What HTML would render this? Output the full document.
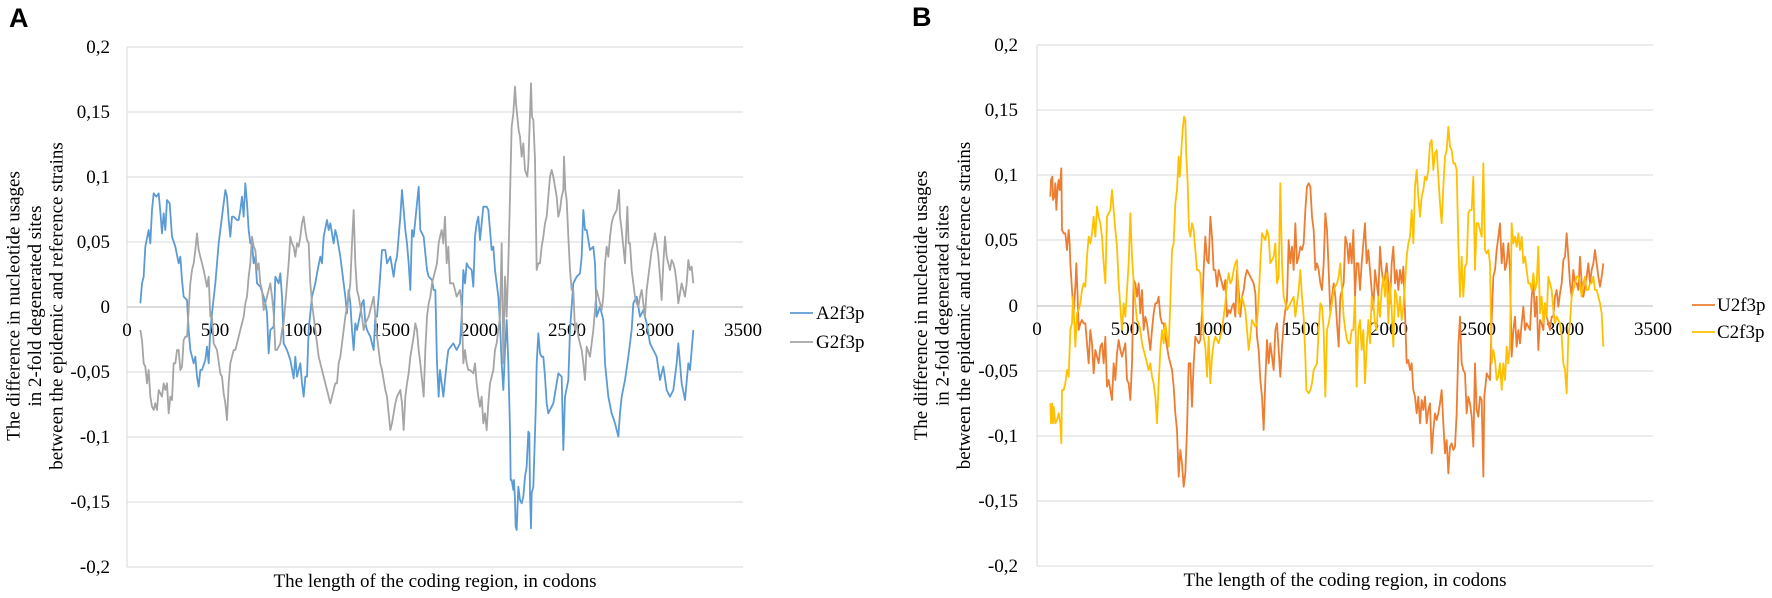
<!DOCTYPE html>
<html>
<head>
<meta charset="utf-8">
<style>
html,body{margin:0;padding:0;background:#fff;}
svg{display:block;}
text{font-family:"Liberation Serif","Times New Roman",serif;fill:#000;}
.lbl{font-size:19px;}
.pl{font-family:"Liberation Sans",Arial,sans-serif;font-weight:bold;font-size:27px;}
</style>
</head>
<body>
<svg width="1772" height="598" viewBox="0 0 1772 598" xmlns="http://www.w3.org/2000/svg">
<rect x="0" y="0" width="1772" height="598" fill="#fff"/>

<!-- ================= PANEL A ================= -->
<text class="pl" x="9" y="27">A</text>
<g stroke="#d9d9d9" stroke-width="1">
  <line x1="127" y1="47" x2="743" y2="47"/>
  <line x1="127" y1="112" x2="743" y2="112"/>
  <line x1="127" y1="177" x2="743" y2="177"/>
  <line x1="127" y1="242" x2="743" y2="242"/>
  <line x1="127" y1="372" x2="743" y2="372"/>
  <line x1="127" y1="437" x2="743" y2="437"/>
  <line x1="127" y1="502" x2="743" y2="502"/>
  <line x1="127" y1="567" x2="743" y2="567"/>
  <line x1="127" y1="47" x2="127" y2="567"/>
</g>
<line x1="127" y1="307" x2="743" y2="307" stroke="#c4c4c4" stroke-width="1.3"/>

<g class="lbl" text-anchor="end">
  <text x="110" y="53">0,2</text>
  <text x="110" y="118">0,15</text>
  <text x="110" y="183">0,1</text>
  <text x="110" y="248">0,05</text>
  <text x="110" y="313">0</text>
  <text x="110" y="378">-0,05</text>
  <text x="110" y="443">-0,1</text>
  <text x="110" y="508">-0,15</text>
  <text x="110" y="573">-0,2</text>
</g>
<g class="lbl" text-anchor="middle">
  <text x="127" y="336">0</text>
  <text x="215" y="336">500</text>
  <text x="303" y="336">1000</text>
  <text x="391" y="336">1500</text>
  <text x="479" y="336">2000</text>
  <text x="567" y="336">2500</text>
  <text x="655" y="336">3000</text>
  <text x="743" y="336">3500</text>
</g>
<text class="lbl" x="435" y="587" text-anchor="middle">The length of the coding region, in codons</text>
<g class="lbl" text-anchor="middle">
  <text transform="translate(19.5,306) rotate(-90)">The difference in nucleotide usages</text>
  <text transform="translate(41,306) rotate(-90)">in 2-fold degenerated sites</text>
  <text transform="translate(62.5,306) rotate(-90)">between the epidemic and reference strains</text>
</g>

<g transform="translate(127 30) scale(0.333333)" fill="none" stroke-width="5.4" stroke-linejoin="round">
<polyline stroke="#5B9BD5" points="40,820 45,760 50,740 55,650 65,600 70,640 75,540 80,490 88,500 95,490 100,545 105,610 110,550 115,600 120,510 128,520 135,620 145,650 155,700 160,680 165,750 170,800 180,810 185,900 190,960 200,1000 205,980 210,1040 215,1070 220,1020 225,1020 235,990 240,950 245,1000 250,900 255,850 265,760 270,700 275,640 280,600 285,560 290,520 295,480 300,500 305,570 310,620 315,560 320,560 330,570 335,570 340,540 345,500 350,560 355,460 360,520 365,600 370,640 375,640 380,700 385,680 390,760 400,770 410,800 415,820 420,850 425,970 430,900 440,890 445,740 455,760 460,730 465,800 470,940 480,960 490,990 500,1045 505,980 510,1040 520,1000 525,1060 530,1100 535,1040 540,1040 545,900 555,800 565,760 570,730 580,680 585,700 590,620 600,570 605,600 610,580 620,640 625,600 630,620 640,680 650,760 655,800 660,850 665,780 670,820 675,900 680,960 685,880 690,900 700,850 705,820 710,810 715,880 720,900 730,920 740,960 745,860 750,860 755,800 765,660 775,660 780,700 790,680 800,740 805,700 810,680 815,620 820,560 825,480 830,540 835,600 840,640 845,700 850,780 855,600 860,620 865,570 870,520 875,470 880,600 890,620 900,720 905,740 915,750 920,780 925,780 930,1000 935,1100 939,1020 949,1100 959,1000 964,960 979,940 989,960 999,940 1004,860 1009,720 1014,760 1019,700 1024,710 1034,720 1039,770 1044,620 1049,580 1054,560 1059,630 1064,580 1069,530 1079,530 1084,540 1089,600 1094,660 1099,650 1104,720 1114,800 1119,880 1124,1000 1129,1080 1134,960 1139,870 1144,1000 1149,1200 1151,1350 1154,1350 1159,1380 1161,1350 1164,1410 1166,1490 1169,1500 1174,1370 1179,1410 1184,1420 1189,1400 1194,1340 1199,1310 1204,1205 1207,1210 1209,1390 1212,1495 1214,1390 1219,1370 1224,1210 1227,1110 1229,1000 1234,910 1239,970 1244,980 1249,980 1254,1040 1259,1120 1264,1150 1269,1140 1279,1120 1289,1060 1294,1030 1304,1040 1309,1260 1314,1100 1324,1050 1329,900 1339,760 1349,740 1359,730 1364,680 1369,540 1374,600 1379,600 1389,660 1399,650 1404,700 1409,860 1419,830 1429,870 1434,1000 1444,1100 1454,1150 1464,1180 1474,1220 1479,1150 1484,1100 1494,1050 1504,980 1514,900 1519,820 1529,800 1539,860 1549,840 1559,880 1569,940 1579,960 1589,980 1599,1050 1609,1010 1619,1080 1629,1100 1639,1080 1649,1000 1654,940 1664,1060 1674,1110 1684,1000 1689,1020 1699,900"/>
<polyline stroke="#A5A5A5" points="40,900 45,930 50,1000 55,1010 60,1060 65,1020 70,1100 75,1130 80,1140 85,1120 90,1140 95,1080 100,1090 105,1100 110,1060 115,1080 120,1060 125,1150 130,1100 135,1110 140,1000 145,1000 150,960 155,960 160,1020 165,1010 170,930 175,920 180,920 185,840 190,760 195,720 200,700 205,660 210,610 215,660 220,680 225,700 230,720 240,770 245,740 250,860 255,860 260,940 270,960 280,1030 285,1040 290,1090 295,1120 300,1170 305,1060 310,1000 315,980 320,960 325,960 330,940 340,900 345,880 350,860 355,820 360,800 365,740 370,700 375,620 380,650 385,660 390,720 395,700 400,760 405,780 410,840 415,820 420,800 425,780 430,760 435,800 440,850 445,960 450,960 455,950 460,940 465,900 470,880 475,820 480,760 485,700 490,620 495,640 500,650 505,680 510,640 515,650 520,620 525,580 530,560 535,600 540,630 545,640 550,760 555,820 560,860 565,900 570,940 575,980 580,1000 585,1020 590,1040 595,1060 600,1080 605,1100 610,1120 615,1100 620,1080 625,1060 630,1060 635,1000 640,980 645,940 650,900 655,860 660,830 665,800 670,760 675,640 680,540 685,700 690,780 695,800 700,830 705,860 710,900 715,880 720,870 725,860 730,840 735,820 740,800 745,860 750,920 755,960 760,1000 765,1020 770,1050 775,1080 780,1100 785,1150 790,1200 795,1180 800,1150 805,1120 810,1100 815,1090 820,1080 825,1120 830,1200 835,1100 840,1060 845,1030 850,980 855,950 860,920 865,880 870,900 875,960 880,1000 885,1050 890,1100 895,960 900,860 905,820 910,800 915,760 920,740 925,720 930,700 935,640 939,620 944,600 949,640 954,560 959,700 964,650 969,760 979,760 989,800 999,780 1004,830 1009,1000 1014,960 1019,1000 1024,1020 1029,1020 1039,1030 1044,1000 1049,1060 1054,1100 1059,1130 1064,1100 1069,1180 1074,1150 1079,1200 1084,1120 1089,1060 1094,1040 1099,1020 1104,960 1109,940 1114,900 1119,860 1124,640 1129,1000 1134,740 1139,860 1144,700 1149,500 1154,290 1159,250 1164,170 1167,220 1171,260 1175,300 1179,320 1184,380 1189,340 1194,420 1201,440 1204,400 1207,310 1212,160 1215,260 1219,270 1224,390 1229,720 1234,700 1239,700 1244,650 1249,620 1254,580 1259,560 1264,500 1269,440 1274,420 1279,440 1284,470 1289,500 1294,560 1299,540 1304,500 1309,480 1311,380 1315,480 1319,510 1324,620 1329,720 1334,780 1339,780 1344,900 1349,880 1354,920 1359,940 1364,960 1369,1000 1374,1050 1379,950 1389,980 1394,940 1399,900 1404,840 1409,780 1414,800 1419,820 1424,840 1429,800 1434,700 1439,650 1444,680 1449,620 1454,580 1459,560 1464,550 1469,540 1476,480 1479,560 1484,600 1489,650 1494,700 1501,530 1505,640 1509,640 1514,720 1519,760 1524,800 1529,820 1534,830 1539,800 1544,780 1549,820 1554,860 1559,780 1564,740 1569,700 1574,660 1579,640 1584,610 1589,640 1594,680 1599,740 1604,810 1609,700 1614,620 1619,680 1624,700 1629,720 1634,690 1639,700 1644,720 1649,760 1654,820 1659,790 1664,760 1669,780 1674,800 1679,760 1684,690 1689,720 1694,710 1699,760"/>
</g>

<line x1="790" y1="313" x2="813" y2="313" stroke="#5B9BD5" stroke-width="1.8"/>
<text class="lbl" x="816" y="319">A2f3p</text>
<line x1="790" y1="342" x2="813" y2="342" stroke="#A5A5A5" stroke-width="1.8"/>
<text class="lbl" x="816" y="348">G2f3p</text>

<!-- ================= PANEL B ================= -->
<text class="pl" x="912" y="26">B</text>
<g stroke="#d9d9d9" stroke-width="1">
  <line x1="1037" y1="45" x2="1653" y2="45"/>
  <line x1="1037" y1="110" x2="1653" y2="110"/>
  <line x1="1037" y1="175" x2="1653" y2="175"/>
  <line x1="1037" y1="240" x2="1653" y2="240"/>
  <line x1="1037" y1="371" x2="1653" y2="371"/>
  <line x1="1037" y1="436" x2="1653" y2="436"/>
  <line x1="1037" y1="501" x2="1653" y2="501"/>
  <line x1="1037" y1="566" x2="1653" y2="566"/>
  <line x1="1037" y1="45" x2="1037" y2="566"/>
</g>
<line x1="1037" y1="306" x2="1653" y2="306" stroke="#c4c4c4" stroke-width="1.3"/>

<g class="lbl" text-anchor="end">
  <text x="1018" y="51">0,2</text>
  <text x="1018" y="116">0,15</text>
  <text x="1018" y="181">0,1</text>
  <text x="1018" y="246">0,05</text>
  <text x="1018" y="312">0</text>
  <text x="1018" y="377">-0,05</text>
  <text x="1018" y="442">-0,1</text>
  <text x="1018" y="507">-0,15</text>
  <text x="1018" y="572">-0,2</text>
</g>
<g class="lbl" text-anchor="middle">
  <text x="1037" y="335">0</text>
  <text x="1125" y="335">500</text>
  <text x="1213" y="335">1000</text>
  <text x="1301" y="335">1500</text>
  <text x="1389" y="335">2000</text>
  <text x="1477" y="335">2500</text>
  <text x="1565" y="335">3000</text>
  <text x="1653" y="335">3500</text>
</g>
<text class="lbl" x="1345" y="586" text-anchor="middle">The length of the coding region, in codons</text>
<g class="lbl" text-anchor="middle">
  <text transform="translate(927,305.5) rotate(-90)">The difference in nucleotide usages</text>
  <text transform="translate(948.5,305.5) rotate(-90)">in 2-fold degenerated sites</text>
  <text transform="translate(970,305.5) rotate(-90)">between the epidemic and reference strains</text>
</g>

<g transform="translate(1037 30) scale(0.333333)" fill="none" stroke-width="5.4" stroke-linejoin="round">
<polyline stroke="#ED7D31" points="40,500 42,450 46,440 48,510 52,500 55,460 58,540 62,470 65,450 68,480 73,415 75,600 80,610 85,610 90,660 95,600 98,640 100,700 105,780 110,850 115,770 118,700 122,800 125,900 130,880 135,870 140,880 145,880 150,940 155,1000 160,900 165,940 170,1030 175,960 180,980 185,1000 190,950 195,940 200,1000 205,920 210,1070 215,1050 220,1080 225,1110 230,1000 235,1050 240,970 245,930 250,960 255,980 260,960 265,940 270,1050 275,1060 280,1110 285,1000 290,750 295,760 300,800 305,760 310,850 315,780 320,900 325,860 330,880 335,920 340,960 345,900 350,850 355,820 360,820 365,800 370,860 375,880 380,880 385,920 390,950 395,980 400,1000 405,1020 410,1070 415,1150 420,1200 425,1340 430,1260 435,1300 440,1370 445,1330 450,1200 455,1000 460,1000 465,1130 470,1000 475,920 480,930 485,940 490,930 495,850 500,720 505,620 510,690 515,700 520,560 525,620 530,720 535,720 540,770 545,720 550,740 555,760 560,780 565,750 570,860 575,840 580,850 585,830 590,820 595,860 600,720 605,780 610,860 615,800 620,780 625,740 630,720 635,730 640,740 645,750 650,760 655,790 660,920 665,960 670,1050 675,1100 680,1200 685,1050 690,930 695,1000 700,940 705,980 710,1020 715,900 720,880 725,960 730,1040 735,950 740,880 745,840 750,810 755,630 760,700 765,650 770,720 775,580 780,700 785,680 790,650 795,660 800,640 805,540 810,470 815,460 820,470 825,560 830,600 835,720 840,700 845,720 850,760 855,780 860,700 865,550 870,600 875,720 880,850 885,800 890,760 895,800 900,880 905,950 910,800 915,780 920,760 925,620 930,640 935,700 939,640 944,700 949,600 954,800 959,700 964,700 969,780 974,700 979,640 984,580 989,700 994,660 999,720 1004,780 1009,840 1014,720 1019,760 1024,800 1029,650 1034,720 1039,760 1044,740 1049,700 1054,760 1059,820 1064,700 1069,650 1074,760 1079,720 1084,780 1089,720 1094,760 1099,710 1104,850 1109,1000 1114,990 1119,1020 1124,1000 1129,1080 1134,1100 1139,1150 1144,1100 1149,1180 1154,1110 1159,1140 1164,1100 1169,1180 1174,1140 1179,1120 1184,1270 1189,1200 1194,1150 1199,1170 1204,1150 1209,1120 1214,1080 1219,1180 1224,1270 1229,1230 1234,1330 1239,1250 1244,1240 1249,1260 1254,1250 1259,1150 1264,950 1269,860 1274,1000 1279,1020 1284,1030 1289,1150 1294,1100 1299,1120 1304,1160 1309,1250 1314,1000 1319,1140 1324,1160 1329,1100 1334,1110 1339,1340 1342,1100 1349,1030 1359,1050 1364,870 1369,740 1374,720 1379,660 1384,620 1389,580 1394,700 1399,640 1404,720 1409,700 1414,640 1419,720 1424,980 1429,900 1434,860 1439,950 1444,900 1449,940 1454,880 1459,830 1464,900 1469,880 1479,900 1484,800 1489,760 1494,860 1499,800 1504,960 1509,870 1514,880 1519,900 1524,820 1529,860 1534,880 1539,900 1544,860 1549,860 1554,800 1559,780 1564,830 1569,790 1574,760 1579,690 1584,680 1589,610 1594,680 1599,760 1604,800 1609,720 1614,760 1619,760 1624,780 1629,680 1634,760 1639,800 1649,740 1654,700 1659,760 1664,720 1669,700 1674,660 1679,700 1684,740 1689,770 1694,740 1699,700"/>
<polyline stroke="#FFC000" points="40,1120 42,1180 45,1120 48,1180 50,1130 55,1180 60,1170 65,1150 70,1180 73,1240 75,1080 80,1080 85,1060 90,1020 95,1040 100,900 105,880 108,800 112,880 115,950 120,850 125,840 130,820 135,780 140,760 145,770 150,680 155,620 160,640 165,610 170,560 175,620 180,530 185,560 190,580 195,620 200,700 205,760 210,560 215,550 220,540 225,480 230,540 235,600 240,650 245,760 250,830 255,900 260,820 265,860 270,780 275,700 280,550 285,680 290,760 295,820 300,870 305,880 310,900 315,940 320,960 325,980 330,1000 335,1020 340,1000 345,1040 350,1060 355,1100 360,1180 365,1060 370,960 375,900 380,940 385,880 390,920 395,950 400,820 405,660 410,640 415,520 420,480 425,380 428,440 430,420 433,360 437,300 441,260 445,270 448,380 452,460 456,600 460,620 465,580 470,600 475,660 480,720 485,720 490,730 495,820 500,920 505,950 510,1040 515,920 520,1060 525,980 530,940 535,920 540,930 545,940 550,920 555,900 560,860 565,820 570,760 575,730 580,760 585,750 590,720 595,700 600,690 605,850 610,820 615,800 620,820 625,840 630,900 635,960 640,920 645,870 650,880 655,890 660,880 665,800 670,700 675,610 680,620 685,630 690,600 695,620 700,700 705,690 710,680 715,640 720,760 725,740 730,460 735,700 740,800 745,820 750,840 755,830 760,820 765,810 770,800 775,860 780,820 785,780 790,720 795,800 800,860 805,980 808,1080 815,1090 820,1080 825,1060 830,1020 835,1010 840,1000 845,900 850,820 855,830 860,900 865,1100 870,900 875,880 880,850 885,820 890,780 895,770 900,760 905,740 910,700 915,780 920,860 925,900 930,930 935,940 939,940 944,900 949,900 954,800 959,1070 964,900 969,870 974,960 979,900 984,1060 989,950 994,870 999,940 1004,800 1009,820 1014,880 1019,900 1024,800 1029,860 1034,780 1039,740 1044,800 1049,730 1054,880 1059,760 1064,840 1069,950 1074,780 1079,800 1084,860 1089,800 1094,870 1099,830 1104,760 1109,680 1114,640 1119,620 1124,540 1129,640 1134,470 1139,420 1144,500 1149,560 1154,500 1159,480 1164,440 1169,450 1174,420 1179,340 1184,330 1189,420 1194,370 1199,360 1204,440 1209,520 1214,580 1219,470 1224,380 1229,360 1234,290 1239,350 1244,360 1249,400 1254,400 1259,420 1264,640 1269,800 1274,680 1279,800 1284,710 1289,700 1294,550 1299,540 1304,540 1309,440 1314,720 1319,580 1324,580 1329,600 1334,620 1339,400 1344,660 1349,670 1354,660 1359,700 1364,1000 1369,960 1374,990 1379,1050 1384,1040 1389,1000 1394,1080 1399,1000 1404,1050 1409,950 1414,1000 1419,940 1424,580 1429,640 1434,620 1439,650 1444,610 1449,660 1454,620 1459,700 1464,680 1469,720 1474,760 1479,760 1484,780 1489,730 1494,780 1499,760 1504,650 1509,850 1514,800 1519,880 1524,820 1529,860 1534,740 1539,760 1544,780 1549,840 1554,880 1559,860 1564,870 1569,880 1574,920 1579,1000 1584,1020 1589,1090 1594,920 1599,880 1604,800 1609,780 1614,760 1619,740 1624,740 1629,760 1634,800 1639,760 1644,740 1649,780 1654,780 1659,760 1664,760 1669,740 1674,780 1679,780 1684,800 1689,820 1694,850 1699,950"/>
</g>

<line x1="1692" y1="305" x2="1715" y2="305" stroke="#ED7D31" stroke-width="1.8"/>
<text class="lbl" x="1717" y="311">U2f3p</text>
<line x1="1692" y1="332" x2="1715" y2="332" stroke="#FFC000" stroke-width="1.8"/>
<text class="lbl" x="1717" y="338">C2f3p</text>
</svg>
</body>
</html>
